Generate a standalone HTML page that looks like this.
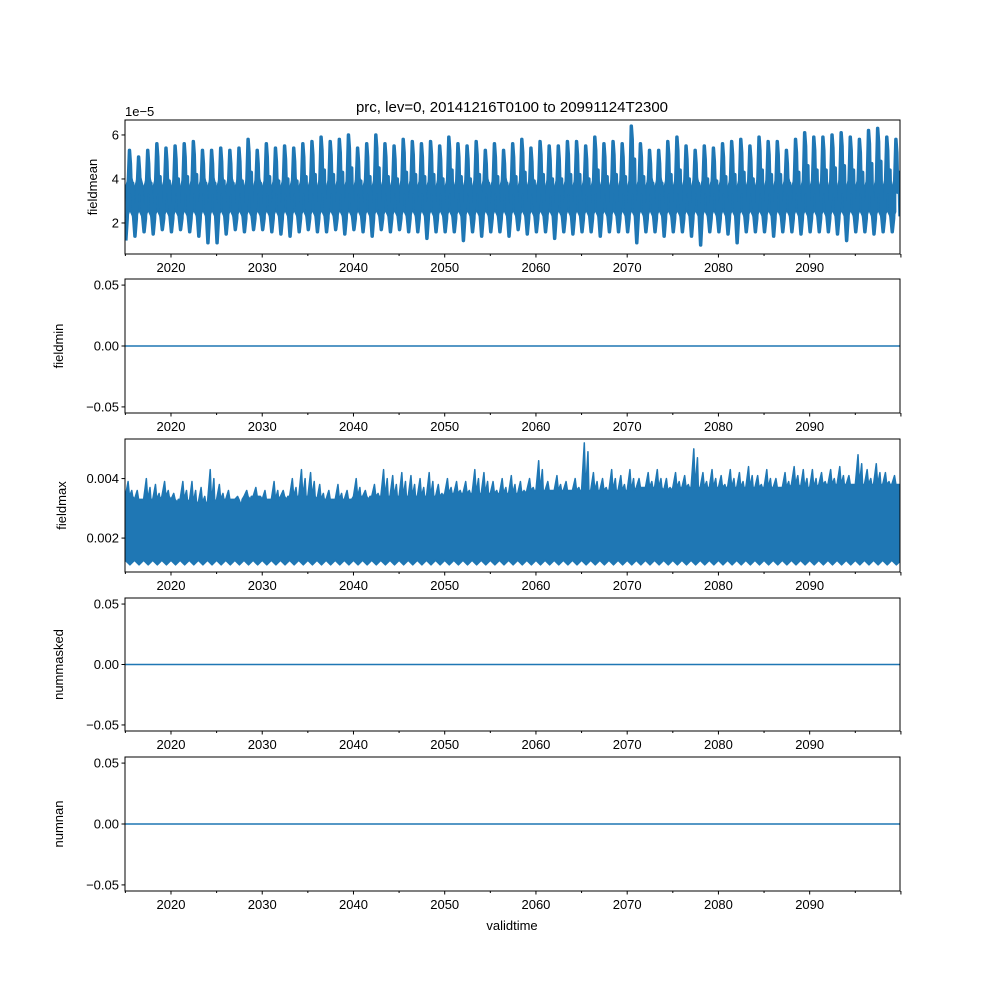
<!DOCTYPE html>
<html><head><meta charset="utf-8">
<style>
html,body{margin:0;padding:0;background:#fff;}
svg{display:block;font-family:"Liberation Sans","DejaVu Sans",sans-serif;}
</style></head>
<body>
<svg id="fig" width="1000" height="1000" viewBox="0 0 1000 1000" xmlns="http://www.w3.org/2000/svg">
<rect width="1000" height="1000" fill="#fff"/>
<text x="512" y="112" font-size="15" text-anchor="middle">prc, lev=0, 20141216T0100 to 20991124T2300</text>
</svg>
<script>
// ---- data ----
const years = [];
for (let y = 2015; y <= 2099; y++) years.push(y);
const xTicks = [2020, 2030, 2040, 2050, 2060, 2070, 2080, 2090];
const meanPeak = [5.3,5.0,5.3,5.6,5.4,5.5,5.6,5.7,5.3,5.3,
 5.4,5.3,5.4,5.8,5.3,5.6,5.4,5.5,5.4,5.6,
 5.7,5.9,5.7,5.8,6.0,5.4,5.6,6.0,5.6,5.5,
 5.8,5.7,5.6,5.7,5.5,5.9,5.6,5.5,5.7,5.3,
 5.6,5.3,5.6,5.8,5.4,5.7,5.5,5.5,5.7,5.7,
 5.5,5.9,5.6,5.7,5.6,6.4,5.6,5.3,5.3,5.7,
 5.9,5.5,5.3,5.5,5.4,5.6,5.7,5.8,5.5,5.9,
 5.7,5.7,5.3,5.8,6.1,5.9,5.9,6.0,6.1,5.9,
 5.8,6.2,6.3,5.9,5.8];
const meanTrough = [1.2,1.4,1.6,1.5,1.7,1.6,1.7,1.6,1.4,1.1,
 1.1,1.5,1.7,1.6,1.7,1.7,1.6,1.5,1.4,1.6,
 1.7,1.6,1.6,1.7,1.5,1.7,1.6,1.4,1.7,1.6,
 1.7,1.6,1.6,1.3,1.6,1.6,1.6,1.2,1.6,1.4,
 1.6,1.6,1.4,1.7,1.5,1.6,1.6,1.3,1.6,1.5,
 1.6,1.6,1.4,1.6,1.6,1.6,1.1,1.6,1.6,1.4,
 1.6,1.6,1.4,1.0,1.6,1.6,1.5,1.1,1.6,1.6,
 1.6,1.4,1.6,1.6,1.5,1.6,1.6,1.6,1.5,1.2,
 1.6,1.6,1.5,1.6,1.6];
const meanTicks = [2, 4, 6];
const maxPeak = [3.9,3.6,4.0,3.8,3.9,3.5,3.9,3.9,3.7,4.3,
 3.8,3.6,3.4,3.6,3.7,3.6,3.9,3.6,4.0,4.3,
 4.2,3.8,3.6,3.8,3.6,4.0,3.6,3.8,4.3,4.1,
 4.2,4.1,4.0,4.2,3.8,4.0,3.9,3.9,4.3,4.2,
 3.9,4.0,4.1,3.9,4.0,4.6,3.9,4.1,3.9,4.0,
 5.2,4.2,4.0,4.3,4.1,4.3,4.0,4.2,4.3,4.0,
 4.2,4.1,5.0,4.2,4.3,4.1,4.3,4.2,4.4,4.1,
 4.3,4.0,4.2,4.4,4.3,4.3,4.2,4.3,4.4,4.1,
 4.8,4.3,4.5,4.2,4.1];
const maxTop = [3.4,3.3,3.3,3.3,3.4,3.3,3.3,3.2,3.2,3.2,
 3.3,3.3,3.3,3.4,3.4,3.3,3.3,3.4,3.4,3.4,
 3.4,3.3,3.3,3.3,3.3,3.4,3.4,3.4,3.4,3.4,
 3.4,3.4,3.4,3.4,3.4,3.5,3.5,3.5,3.5,3.5,
 3.5,3.5,3.5,3.5,3.6,3.6,3.6,3.6,3.6,3.6,
 3.6,3.6,3.6,3.6,3.6,3.6,3.7,3.7,3.7,3.6,
 3.7,3.7,3.7,3.7,3.7,3.7,3.7,3.7,3.7,3.7,
 3.7,3.7,3.7,3.8,3.7,3.7,3.8,3.8,3.8,3.8,
 3.8,3.8,3.8,3.8,3.8];
const maxBottom = 1.1;
const maxTicks = [0.002, 0.004];
const zeroTicks = [-0.05, 0.00, 0.05];

// ---- layout ----
const NS = "http://www.w3.org/2000/svg";
const svg = document.getElementById('fig');
const L = 125, R = 900;
const t0 = 2014.96, t1 = 2099.9;
const xs = t => L + (t - t0) / (t1 - t0) * (R - L);
const BLUE = "#1f77b4";
function el(tag, attrs, parent) {
  const e = document.createElementNS(NS, tag);
  for (const k in attrs) e.setAttribute(k, attrs[k]);
  (parent || svg).appendChild(e);
  return e;
}
const panels = [
  {name:'fieldmean', top:120, bot:254, ymin:0.59, ymax:6.68},
  {name:'fieldmin', top:279, bot:413, ymin:-0.055, ymax:0.055},
  {name:'fieldmax', top:439, bot:572, ymin:0.00086, ymax:0.00533},
  {name:'nummasked', top:598, bot:731, ymin:-0.055, ymax:0.055},
  {name:'numnan', top:757, bot:891, ymin:-0.055, ymax:0.055}
];
panels.forEach((p, i) => {
  const g = el('g', {});
  
  
  const ys = v => p.bot - (v - p.ymin) / (p.ymax - p.ymin) * (p.bot - p.top);
  const clipId = 'clip' + i;
  const cp = el('clipPath', {id: clipId}, g);
  el('rect', {x: L, y: p.top, width: R - L, height: p.bot - p.top}, cp);
  const data = el('g', {'clip-path': 'url(#' + clipId + ')'}, g);
  
  
  let ticks, fmt;
  if (i === 0) {
    let pts = [];
    years.forEach((y, k) => { pts.push([xs(y), ys(3.7)], [xs(y + 0.5), ys(4.5)]); });
    let lo = [];
    years.slice().reverse().forEach(y => { lo.push([xs(y + 0.5), ys(2.5)], [xs(y + 0.05), ys(2.0)]); });
    const band = el('polygon', {points: pts.concat(lo).map(q => q.join(',')).join(' '), fill: BLUE}, data);
    
    
    let line = [];
    years.forEach((y, k) => {
      line.push([xs(y + 0.05), ys(meanTrough[k])]);
      line.push([xs(y + 0.2), ys(2.2)]);
      line.push([xs(y + 0.3), ys(3.6)]);
      line.push([xs(y + 0.45), ys(meanPeak[k])]);
      line.push([xs(y + 0.55), ys(meanPeak[k] - 0.6)]);
      line.push([xs(y + 0.65), ys(3.4)]);
      line.push([xs(y + 0.8), ys(meanPeak[k] - 1.5)]);
      line.push([xs(y + 0.9), ys(2.3)]);
    });
    const pl = el('polyline', {points: line.map(q => q.join(',')).join(' '), fill: 'none', stroke: BLUE, 'stroke-width': 3.5, 'stroke-linejoin': 'round'}, data);
    
    
    ticks = meanTicks; fmt = v => String(v);
    const off = el('text', {x: L, y: 116, 'font-size': 13}, g);
    off.textContent = '1e\u22125';
    
    
  } else if (i === 2) {
    const s = 0.001;
    let top = [], bot = [];
    years.forEach((y, k) => {
      top.push([xs(y), ys(maxTop[k] * s)], [xs(y + 0.3), ys(maxPeak[k] * s)], [xs(y + 0.45), ys(maxTop[k] * s)], [xs(y + 0.7), ys((maxPeak[k] - 0.3) * s)], [xs(y + 0.8), ys(maxTop[k] * s)]);
      bot.push([xs(y), ys(1.25 * s)], [xs(y + 0.5), ys(maxBottom * s)]);
    });
    top.push([xs(2100), ys(maxTop[maxTop.length - 1] * s)]);
    bot.push([xs(2100), ys(1.25 * s)]);
    const poly = top.concat(bot.reverse());
    const band = el('polygon', {points: poly.map(q => q.join(',')).join(' '), fill: BLUE, stroke: BLUE, 'stroke-width': 1.5, 'stroke-linejoin': 'round'}, data);
    
    
    ticks = maxTicks; fmt = v => v.toFixed(3);
  } else {
    const ln = el('line', {x1: L, x2: R, y1: ys(0), y2: ys(0), stroke: BLUE, 'stroke-width': 1.5}, data);
    
    
    ticks = zeroTicks; fmt = v => v.toFixed(2).replace('-', '\u2212');
  }
  const fr = el('rect', {x: L, y: p.top, width: R - L, height: p.bot - p.top, fill: 'none', stroke: '#000', 'stroke-width': 1}, g);
  
  
  ticks.forEach(v => {
    const y = ys(v);
    el('line', {x1: L - 3.5, x2: L, y1: y, y2: y, stroke: '#000'}, g);
    const t = el('text', {x: L - 6, y: y + 4.5, 'font-size': 13, 'text-anchor': 'end'}, g);
    t.textContent = fmt(v);
    
    
  });
  for (let y = 2015; y <= 2100; y += 5) {
    const x = xs(y);
    const major = y % 10 === 0;
    el('line', {x1: x, x2: x, y1: p.bot, y2: p.bot + (major ? 3.5 : 2), stroke: '#000'}, g);
  }
  xTicks.forEach(y => {
    const t = el('text', {x: xs(y), y: p.bot + 18, 'font-size': 13, 'text-anchor': 'middle'}, g);
    t.textContent = String(y);
    
    
  });
  const lx = (i === 0) ? 97 : (i === 2 ? 66 : 63);
  const cy = (p.top + p.bot) / 2;
  const yl = el('text', {x: lx, y: cy, 'font-size': 13, 'text-anchor': 'middle', transform: 'rotate(-90 ' + lx + ' ' + cy + ')'}, g);
  yl.textContent = p.name;
  
  
});
const xl = el('text', {x: 512, y: 930, 'font-size': 13, 'text-anchor': 'middle'});
xl.textContent = 'validtime';


</script>
</body></html>
